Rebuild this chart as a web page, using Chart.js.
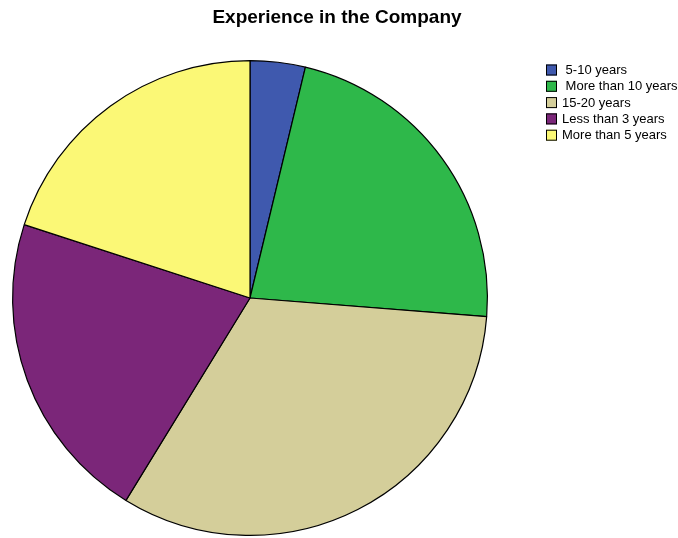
<!DOCTYPE html>
<html>
<head>
<meta charset="utf-8">
<script src="https://cdn.jsdelivr.net/npm/chart.js@4"></script>
<style>
  html, body { margin: 0; padding: 0; background: #ffffff; }
  #wrap { width: 678px; height: 538px; position: relative; }
</style>
</head>
<body>
<div id="wrap"><canvas id="chart" width="678" height="538"></canvas></div>
<script>
// Experience groups and respondent counts
const categories = [' 5-10 years', ' More than 10 years', '15-20 years', 'Less than 3 years', 'More than 5 years'];
const counts = [3, 18, 26, 17, 16];
const sliceColors = ['#3F59AE', '#2EB84A', '#D4CE9A', '#7B2679', '#FBF876'];
const chartTitle = 'Experience in the Company';

// Title and boxed legend drawn on the canvas
const decorations = {
  id: 'decorations',
  afterDraw(chart) {
    const ctx = chart.ctx;
    ctx.save();
    ctx.fillStyle = '#000';
    ctx.font = 'bold 19px "Liberation Sans", Arial, sans-serif';
    ctx.textAlign = 'center';
    ctx.textBaseline = 'alphabetic';
    ctx.fillText(chartTitle, 337, 23);

    ctx.font = '13px "Liberation Sans", Arial, sans-serif';
    ctx.textAlign = 'left';
    ctx.textBaseline = 'middle';
    const labels = chart.data.labels;
    const colors = chart.data.datasets[0].backgroundColor;
    labels.forEach((lab, i) => {
      const cy = 70 + i * 16.3;
      ctx.fillStyle = colors[i];
      ctx.fillRect(546, cy - 5.5, 11, 11);
      ctx.strokeStyle = '#000';
      ctx.lineWidth = 1;
      ctx.strokeRect(546.5, cy - 5, 10, 10);
      ctx.fillStyle = '#000';
      ctx.fillText(lab, 562, cy + 0.5);
    });
    ctx.restore();
  }
};

new Chart(document.getElementById('chart'), {
  type: 'pie',
  data: {
    labels: categories,
    datasets: [{
      data: counts,
      backgroundColor: sliceColors,
      borderColor: '#000000',
      borderWidth: 1.2,
      borderAlign: 'center'
    }]
  },
  options: {
    responsive: false,
    animation: false,
    layout: { padding: { left: 12, right: 190, top: 60, bottom: 2 } },
    plugins: {
      legend: { display: false },
      title: { display: false },
      tooltip: { enabled: false }
    }
  },
  plugins: [decorations]
});
</script>
</body>
</html>
